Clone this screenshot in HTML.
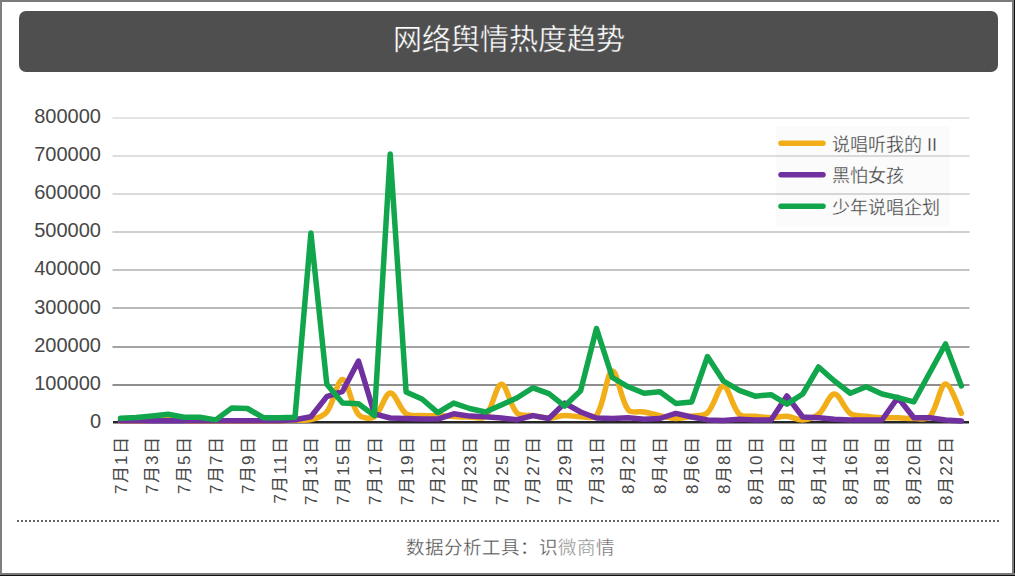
<!DOCTYPE html>
<html lang="zh-CN"><head><meta charset="utf-8">
<style>
html,body{margin:0;padding:0;}
body{width:1015px;height:576px;position:relative;overflow:hidden;background:#fff;font-family:"Liberation Sans",sans-serif;}
.frame{position:absolute;left:0;top:0;width:1015px;height:576px;box-sizing:border-box;}
.bt{position:absolute;left:0;top:0;width:1015px;height:2px;background:#7a7a7a;}
.bl{position:absolute;left:0;top:0;width:2px;height:576px;background:#7e7e7e;}
.br{position:absolute;left:1012px;top:0;width:2px;height:576px;background:#7a7a7a;}
.br2{position:absolute;left:1014px;top:0;width:1px;height:576px;background:#111;}
.bb{position:absolute;left:0;top:573px;width:1015px;height:2px;background:#7a7a7a;}
.bb2{position:absolute;left:0;top:575px;width:1015px;height:1px;background:#111;}
.title{position:absolute;left:19px;top:11px;width:979px;height:61px;background:#4f4f4f;border-radius:7px;color:#fff;font-size:29px;line-height:59px;text-align:center;-webkit-text-stroke:0.4px #4f4f4f;}
.yl{position:absolute;right:914px;font-size:20px;line-height:22px;color:#474747;text-align:right;white-space:nowrap;}
.xl{position:absolute;top:434.5px;width:0;height:0;}
.xl span{position:absolute;right:-1.3px;top:-9px;line-height:20px;font-size:17px;letter-spacing:1.3px;color:#474747;white-space:nowrap;transform-origin:right center;transform:rotate(-90deg);}
.leg{position:absolute;left:776px;top:126px;width:176px;height:101px;background:rgba(0,0,0,0.022);}
.lt{position:absolute;left:832px;font-size:18px;line-height:22px;color:#3a3a3a;-webkit-text-stroke:0.3px #fbfbfb;white-space:nowrap;}
.dots{position:absolute;left:17px;top:520px;width:982px;height:2px;background:repeating-linear-gradient(to right,#666 0 2px,transparent 2px 4px);}
.foot{position:absolute;left:3px;width:1015px;top:536px;text-align:center;font-size:18.5px;line-height:24px;color:#484848;-webkit-text-stroke:0.3px #fff;}
</style></head><body>
<div class="title">网络舆情热度趋势</div>
<svg width="1015" height="576" style="position:absolute;left:0;top:0">
<rect x="112.5" y="117" width="857" height="2" fill="#e4e4e4"/><rect x="112.5" y="155" width="857" height="2" fill="#dedede"/><rect x="112.5" y="193" width="857" height="2" fill="#dadada"/><rect x="112.5" y="231" width="857" height="2" fill="#cfcfcf"/><rect x="112.5" y="269" width="857" height="2" fill="#c4c4c4"/><rect x="112.5" y="307" width="857" height="2" fill="#b9b9b9"/><rect x="112.5" y="346" width="857" height="2" fill="#a3a3a3"/><rect x="112.5" y="384" width="857" height="2" fill="#8e8e8e"/>
<rect x="776" y="126" width="174" height="100" fill="rgba(0,0,0,0.016)"/>
<rect x="113" y="421" width="856" height="2.5" fill="#262626"/>
<g fill="none" stroke-width="5.5" stroke-linejoin="round" stroke-linecap="round">
<path d="M120.5,421.0 C123.2,421.0 131.1,421.2 136.4,421.0 C141.7,420.8 147.0,420.3 152.3,420.0 C157.6,419.7 162.8,418.9 168.1,419.0 C173.4,419.1 178.7,420.2 184.0,420.5 C189.3,420.8 194.6,420.9 199.9,421.0 C205.1,421.1 210.4,421.0 215.7,421.0 C221.0,421.0 226.3,421.0 231.6,421.0 C236.9,421.0 242.2,421.0 247.5,421.0 C252.7,421.0 258.0,421.0 263.3,421.0 C268.6,421.0 273.9,421.2 279.2,421.0 C284.5,420.8 289.8,420.2 295.0,420.0 C300.3,419.8 305.9,421.0 310.9,419.7 C316.5,418.3 323.3,416.4 326.8,412.0 C333.9,403.0 337.5,379.1 342.6,379.5 C348.1,379.9 351.0,405.7 358.5,414.5 C361.6,418.2 370.6,419.4 374.4,416.8 C381.1,412.2 384.7,393.5 390.2,393.0 C395.3,392.5 399.5,409.1 406.1,413.8 C410.1,416.7 416.7,415.3 422.0,415.6 C427.2,415.9 432.5,415.5 437.8,415.6 C443.1,415.8 448.4,416.3 453.7,416.5 C459.0,416.7 464.3,417.0 469.6,417.0 C474.8,417.0 482.2,419.8 485.4,416.5 C492.8,408.9 495.8,384.8 501.3,384.2 C506.4,383.7 510.0,406.2 517.2,413.2 C520.6,416.6 527.7,414.8 533.0,415.6 C538.3,416.4 543.6,418.0 548.9,418.0 C554.2,418.0 559.4,415.8 564.7,415.6 C570.0,415.4 575.3,416.7 580.6,416.7 C585.9,416.7 593.8,419.4 596.5,415.6 C604.4,404.2 606.7,372.0 612.3,371.0 C617.3,370.1 620.6,399.9 628.2,409.8 C631.1,413.6 638.8,411.0 644.1,412.0 C649.4,413.0 654.6,414.5 659.9,415.6 C665.2,416.7 670.5,418.4 675.8,418.5 C681.1,418.6 686.4,417.3 691.7,416.3 C697.0,415.3 703.9,416.2 707.5,412.7 C714.5,406.1 718.2,385.8 723.4,386.0 C728.8,386.3 732.2,407.4 739.3,414.2 C742.8,417.5 749.8,415.7 755.1,416.3 C760.4,416.9 765.7,417.8 771.0,417.8 C776.3,417.8 781.6,415.9 786.9,416.3 C792.2,416.7 797.5,420.3 802.7,420.0 C808.1,419.6 814.4,417.6 818.6,414.2 C825.0,409.0 829.1,394.1 834.4,394.0 C839.7,393.9 843.9,408.9 850.3,413.4 C854.5,416.3 860.9,415.6 866.2,416.3 C871.4,417.0 876.7,417.5 882.0,417.8 C887.3,418.0 892.6,417.7 897.9,417.8 C903.2,417.9 908.5,418.6 913.8,418.5 C919.1,418.4 926.4,420.5 929.6,417.0 C937.0,409.0 940.0,384.6 945.5,384.0 C950.5,383.4 958.7,408.4 961.4,413.3" stroke="#f2ae18"/>
<path d="M120.5,420.8 L136.4,420.8 L152.3,420.8 L168.1,420.8 L184.0,420.8 L199.9,420.8 L215.7,420.8 L231.6,420.8 L247.5,420.8 L263.3,420.8 L279.2,420.8 L295.0,419.7 L310.9,416.7 L326.8,396.6 L342.6,391.3 L358.5,361.0 L374.4,413.8 L390.2,418.0 L406.1,418.5 L422.0,419.1 L437.8,419.1 L453.7,413.8 L469.6,416.1 L485.4,416.7 L501.3,418.0 L517.2,419.7 L533.0,415.6 L548.9,418.5 L564.7,403.1 L580.6,412.0 L596.5,418.0 L612.3,418.5 L628.2,417.8 L644.1,419.2 L659.9,418.5 L675.8,413.4 L691.7,417.0 L707.5,419.9 L723.4,420.6 L739.3,419.2 L755.1,420.0 L771.0,420.0 L786.9,396.0 L802.7,417.0 L818.6,417.8 L834.4,419.2 L850.3,420.0 L866.2,420.0 L882.0,420.0 L897.9,397.5 L913.8,417.8 L929.6,417.8 L945.5,420.0 L961.4,421.0" stroke="#7030a0"/>
<path d="M120.5,418.2 L136.4,417.5 L152.3,416.0 L168.1,414.3 L184.0,417.2 L199.9,417.2 L215.7,419.9 L231.6,408.1 L247.5,408.5 L263.3,417.7 L279.2,417.7 L295.0,417.3 L310.9,233.0 L326.8,384.2 L342.6,403.1 L358.5,403.7 L374.4,415.6 L390.2,154.0 L406.1,391.9 L422.0,399.0 L437.8,412.6 L453.7,403.1 L469.6,408.5 L485.4,412.0 L501.3,405.0 L517.2,397.8 L533.0,387.8 L548.9,393.7 L564.7,406.1 L580.6,390.7 L596.5,328.5 L612.3,377.5 L628.2,386.8 L644.1,393.3 L659.9,391.8 L675.8,403.4 L691.7,401.9 L707.5,356.5 L723.4,381.0 L739.3,390.4 L755.1,396.2 L771.0,394.7 L786.9,404.1 L802.7,394.0 L818.6,367.0 L834.4,381.0 L850.3,393.3 L866.2,386.8 L882.0,394.0 L897.9,397.6 L913.8,401.9 L929.6,373.0 L945.5,344.0 L961.4,386.0" stroke="#12a64c"/>
<line x1="781" y1="143.2" x2="823" y2="143.2" stroke="#f2ae18"/>
<line x1="781" y1="174.8" x2="823" y2="174.8" stroke="#7030a0"/>
<line x1="781" y1="206.2" x2="823" y2="206.2" stroke="#12a64c"/>
</g>
</svg>
<div class="yl" style="top:104.8px">800000</div><div class="yl" style="top:142.9px">700000</div><div class="yl" style="top:181.1px">600000</div><div class="yl" style="top:219.2px">500000</div><div class="yl" style="top:257.4px">400000</div><div class="yl" style="top:295.6px">300000</div><div class="yl" style="top:333.7px">200000</div><div class="yl" style="top:371.9px">100000</div><div class="yl" style="top:410.0px">0</div>
<div class="xl" style="left:120.5px"><span>7月1日</span></div><div class="xl" style="left:152.3px"><span>7月3日</span></div><div class="xl" style="left:184.0px"><span>7月5日</span></div><div class="xl" style="left:215.7px"><span>7月7日</span></div><div class="xl" style="left:247.5px"><span>7月9日</span></div><div class="xl" style="left:279.2px"><span>7月11日</span></div><div class="xl" style="left:310.9px"><span>7月13日</span></div><div class="xl" style="left:342.6px"><span>7月15日</span></div><div class="xl" style="left:374.4px"><span>7月17日</span></div><div class="xl" style="left:406.1px"><span>7月19日</span></div><div class="xl" style="left:437.8px"><span>7月21日</span></div><div class="xl" style="left:469.6px"><span>7月23日</span></div><div class="xl" style="left:501.3px"><span>7月25日</span></div><div class="xl" style="left:533.0px"><span>7月27日</span></div><div class="xl" style="left:564.7px"><span>7月29日</span></div><div class="xl" style="left:596.5px"><span>7月31日</span></div><div class="xl" style="left:628.2px"><span>8月2日</span></div><div class="xl" style="left:659.9px"><span>8月4日</span></div><div class="xl" style="left:691.7px"><span>8月6日</span></div><div class="xl" style="left:723.4px"><span>8月8日</span></div><div class="xl" style="left:755.1px"><span>8月10日</span></div><div class="xl" style="left:786.9px"><span>8月12日</span></div><div class="xl" style="left:818.6px"><span>8月14日</span></div><div class="xl" style="left:850.3px"><span>8月16日</span></div><div class="xl" style="left:882.0px"><span>8月18日</span></div><div class="xl" style="left:913.8px"><span>8月20日</span></div><div class="xl" style="left:945.5px"><span>8月22日</span></div>
<div class="lt" style="top:133.5px">说唱听我的 II</div>
<div class="lt" style="top:165.2px">黑怕女孩</div>
<div class="lt" style="top:196.5px">少年说唱企划</div>
<div class="dots"></div>
<div class="foot">数据分析工具：识<span style="color:#8c8c8c">微商</span><span style="color:#6a6a6a">情</span></div>
<div class="bt"></div><div class="bl"></div><div class="br"></div><div class="br2"></div><div class="bb"></div><div class="bb2"></div>
</body></html>
